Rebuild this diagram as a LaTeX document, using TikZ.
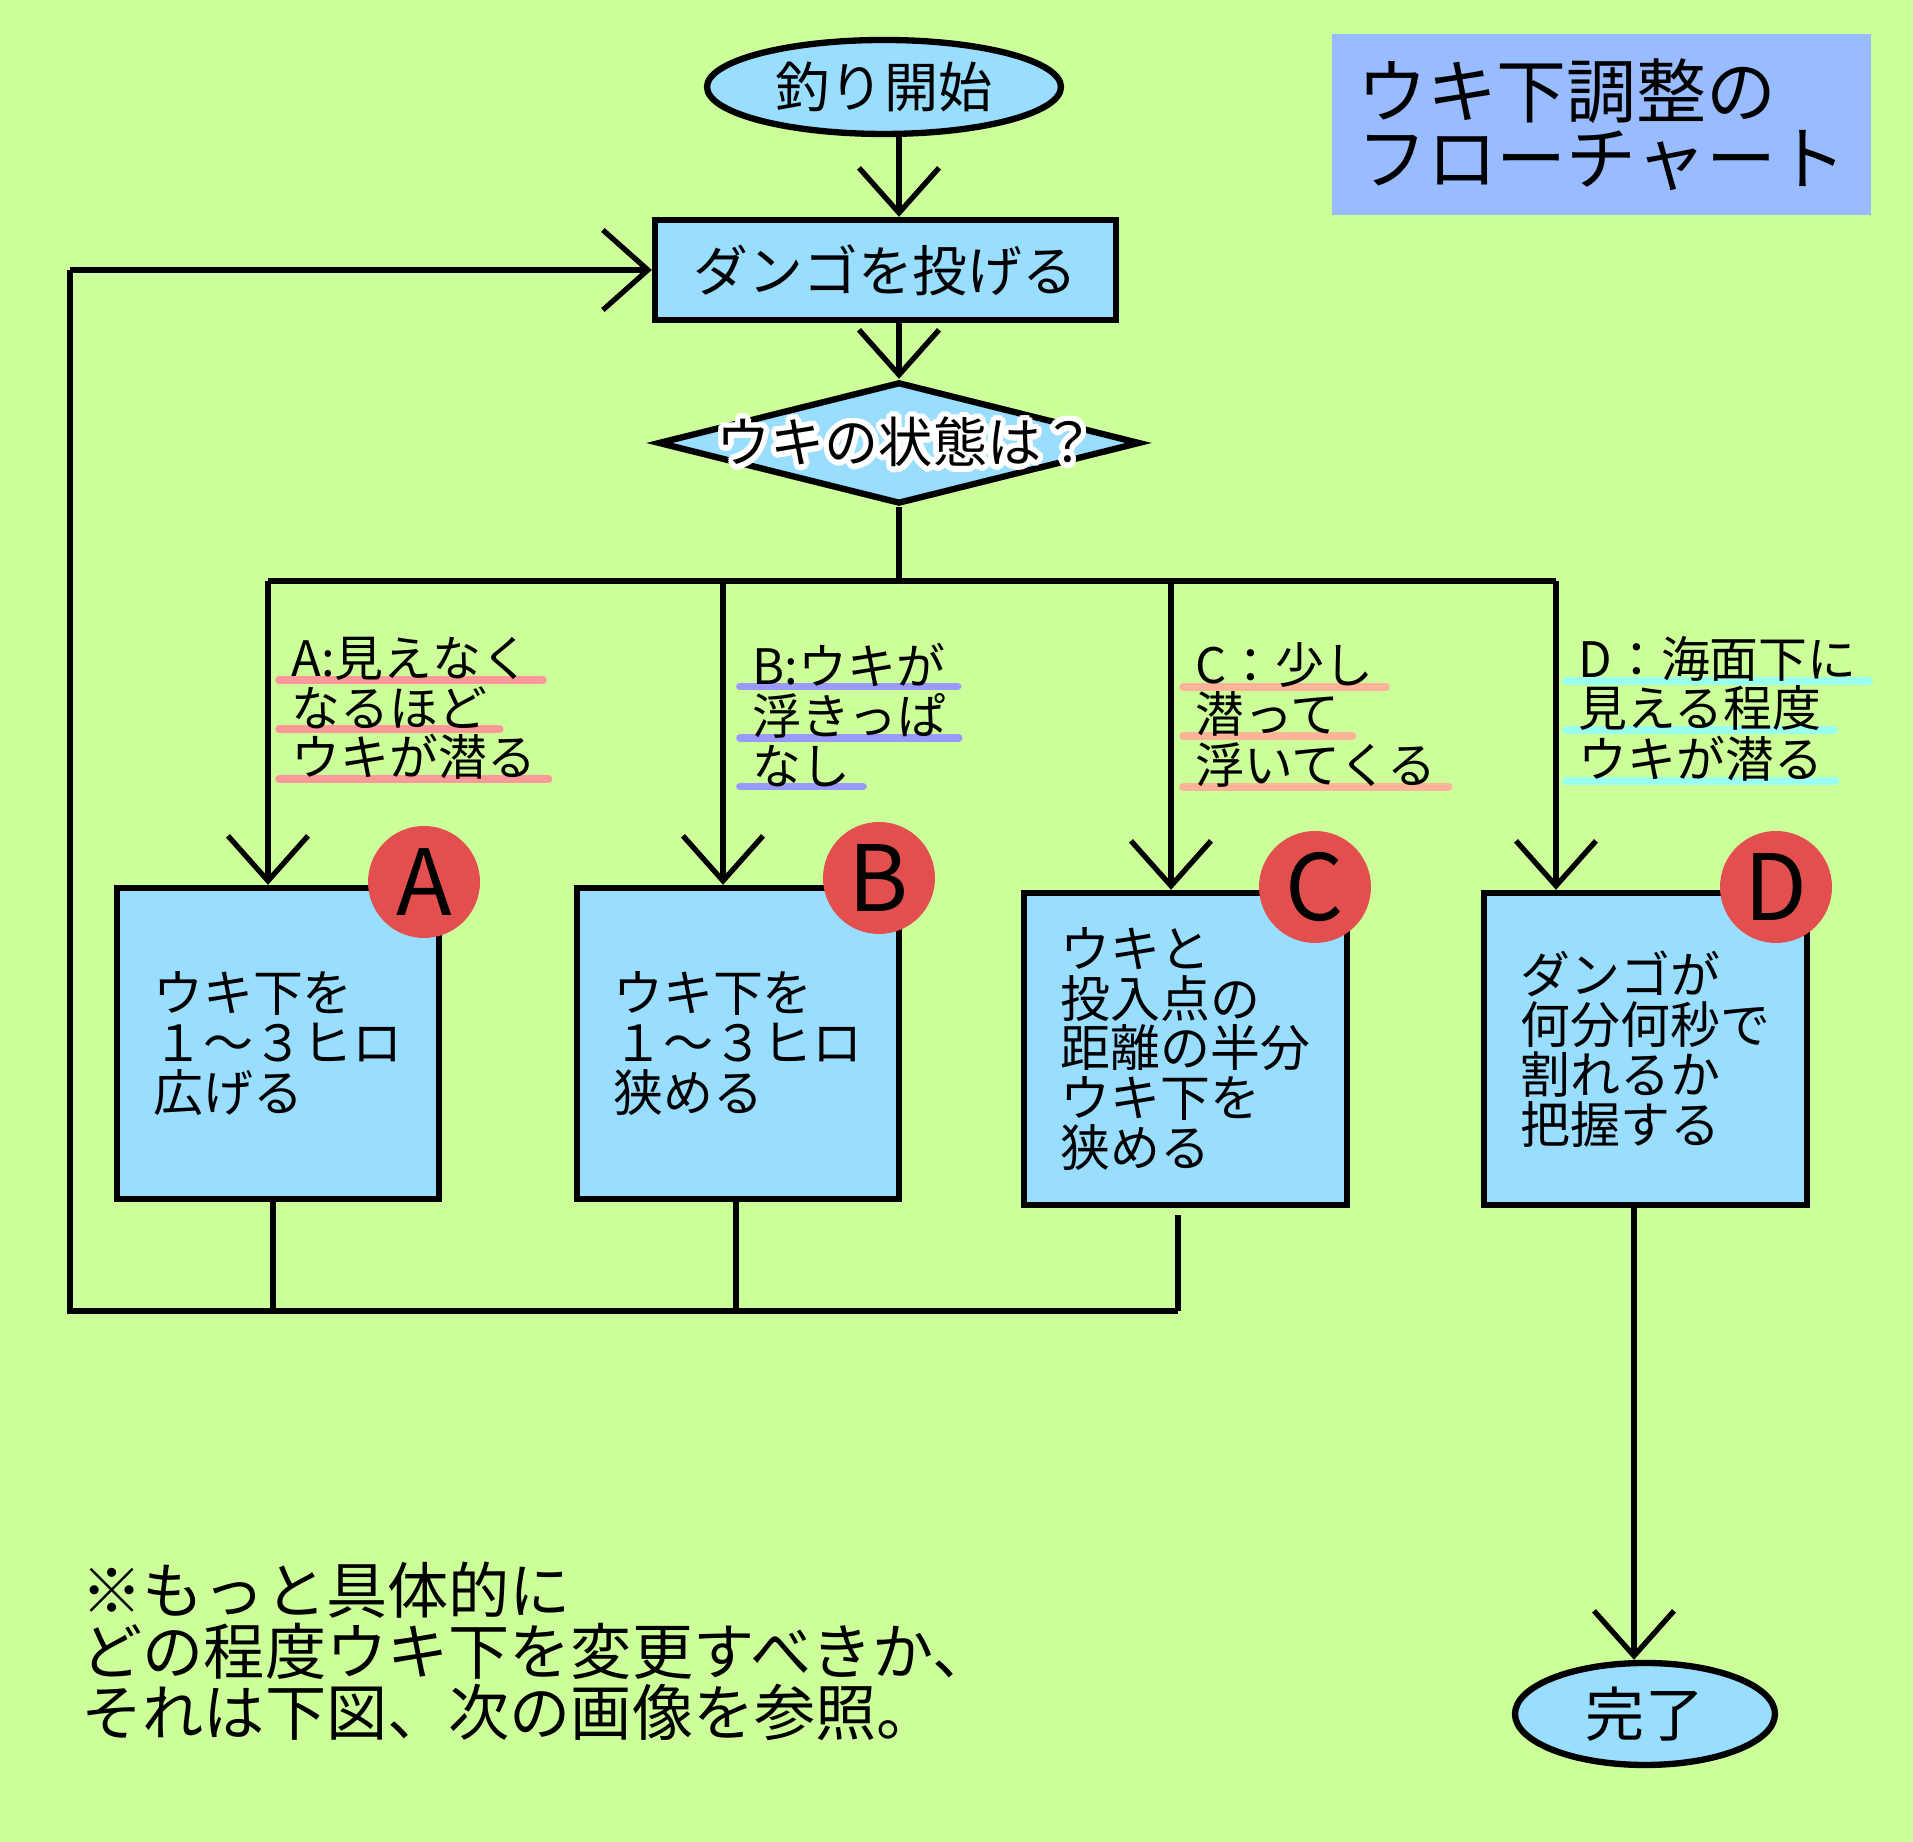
\documentclass[tikz,border=0pt]{standalone}
\usepackage{fontspec}
\setmainfont{Noto Sans CJK JP}
\definecolor{ukibg}{HTML}{CCFF99}
\definecolor{ukibox}{HTML}{99DDFF}
\definecolor{ukititle}{HTML}{99BBFF}
\definecolor{ukired}{HTML}{E34F4F}
\definecolor{ulpink}{HTML}{FF9999}
\definecolor{ulblue}{HTML}{9999FF}
\definecolor{ulpeach}{HTML}{FFB399}
\definecolor{ulaqua}{HTML}{99FFEE}
\usepackage{tikz}
\usetikzlibrary{shapes.geometric,arrows.meta,positioning,calc}
\pgfdeclarelayer{bg}
\pgfdeclarelayer{under}
\pgfsetlayers{bg,under,main}
\newcommand{\jpsize}[2]{\fontsize{#1}{#2}\selectfont}

\begin{document}
\begin{tikzpicture}[
  arr/.style={-{Straight Barb[length=4.5mm,width=8mm]}},
  flowbox/.style={draw, line width=1.8pt, fill=ukibox, inner sep=0pt},
  actbox/.style={flowbox, minimum width=3.22cm, minimum height=3.11cm, align=left, font=\jpsize{14.2pt}{14.2pt}},
  terminal/.style={ellipse, draw, line width=1.8pt, fill=ukibox, inner sep=0pt},
  badge/.style={circle, fill=ukired, minimum size=1.12cm, inner sep=0pt, font=\jpsize{26pt}{26pt}},
  lbl/.style={anchor=west, inner sep=0pt, font=\jpsize{13.9pt}{13.9pt}},
  uline/.style={line width=2.2pt, line cap=round, shorten <=-1mm, shorten >=-1mm},
]
\begin{pgfonlayer}{bg}
\path[use as bounding box, fill=ukibg] (0,0) rectangle (19.13,18.42);
\end{pgfonlayer}

\begin{scope}[line width=1.5pt]
% Title
\node[fill=ukititle, minimum width=5.39cm, minimum height=1.81cm, inner sep=0pt, align=left,
  font=\jpsize{19.9pt}{19.1pt}] (title) at (16.015,17.175) {ウキ下調整の\\フローチャート};

% Main flow
\node[terminal, minimum width=3.54cm, minimum height=0.94cm, font=\jpsize{15.4pt}{15.4pt}] (start) at (8.84,17.55) {釣り開始};
\node[flowbox, minimum width=4.61cm, minimum height=1cm, font=\jpsize{15.6pt}{15.6pt}] (throw) at (8.855,15.72) {ダンゴを投げる};
\node[diamond, draw, line width=1.8pt, fill=ukibox, minimum width=4.82cm, minimum height=1.22cm, inner sep=0pt] (check) at (8.99,13.99) {};
\coordinate (checkc) at (9.06,14.00);
\foreach \a in {0,20,...,340}
  \node[text=white, font=\jpsize{15.4pt}{15.4pt}] (halo\a) at ([shift={(\a:0.055)}]checkc) {ウキの状態は？};
\node[font=\jpsize{15.4pt}{15.4pt}] (checktxt) at (checkc) {ウキの状態は？};

\coordinate (spine) at (8.99,16.5);
\draw[arr] (spine |- start.south) -- (spine |- throw.north);
\draw[arr] (throw.south -| check.north) -- (check.north);

% Branches
\coordinate (brA) at (2.68,12.61);
\coordinate (brB) at (7.23,12.61);
\coordinate (brC) at (11.71,12.61);
\coordinate (brD) at (15.56,12.61);
\draw (check.south) -- (check.south |- brA);
\draw (brA) -- (brD);

% Action boxes
\node[actbox] (boxA) at (2.78,7.985) {ウキ下を\\１～３ヒロ\\広げる};
\node[actbox] (boxB) at (7.38,7.985) {ウキ下を\\１～３ヒロ\\狭める};
\node[actbox, minimum width=3.23cm, minimum height=3.12cm] (boxC) at (11.855,7.93) {ウキと\\投入点の\\距離の半分\\ウキ下を\\狭める};
\node[actbox, minimum width=3.23cm, minimum height=3.12cm] (boxD) at (16.455,7.93) {ダンゴが\\何分何秒で\\割れるか\\把握する};

\draw[arr] (brA) -- (brA |- boxA.north);
\draw[arr] (brB) -- (brB |- boxB.north);
\draw[arr] (brC) -- (brC |- boxC.north);
\draw[arr] (brD) -- (brD |- boxD.north);

\node[badge] (bdA) at (4.24,9.60) {A};
\node[badge] (bdB) at (8.79,9.64) {B};
\node[badge] (bdC) at (13.15,9.55) {C};
\node[badge] (bdD) at (17.76,9.55) {D};

% Back to throwing
\coordinate (dropA) at (2.73,5.31);
\coordinate (dropB) at (7.36,5.31);
\coordinate (dropC) at (11.78,5.31);
\coordinate (loopBL) at (0.70,5.31);
\draw (dropA |- boxA.south) -- (dropA);
\draw (dropB |- boxB.south) -- (dropB);
\draw ([yshift=-0.07cm]dropC |- boxC.south) -- (dropC);
\draw (dropC) -- (loopBL) -- (loopBL |- throw.west);
\draw[arr] (loopBL |- throw.west) -- (throw.west);

% Finish
\node[terminal, minimum width=2.6cm, minimum height=1.02cm, font=\jpsize{16.8pt}{16.8pt}] (done) at (16.45,1.28) {完了};
\coordinate (dOut) at (16.34,6.37);
\draw[arr] (dOut) -- (dOut |- done.north);

% Note
\node[anchor=west, inner sep=0pt, align=left, font=\jpsize{17.4pt}{17.4pt}] (note) at (0.79,1.91)
  {※もっと具体的に\\どの程度ウキ下を変更すべきか、\\それは下図、次の画像を参照。};

% Conditions
\node[lbl] (laA1) at (2.89,11.83) {A:見えなく};
\node[lbl] (laA2) at (2.89,11.34) {なるほど};
\node[lbl] (laA3) at (2.89,10.85) {ウキが潜る};
\node[lbl] (laB1) at (7.50,11.77) {B:ウキが};
\node[lbl] (laB2) at (7.50,11.26) {浮きっぱ};
\node[lbl] (laB3) at (7.50,10.76) {なし};
\node[lbl] (laC1) at (11.93,11.77) {C：少し};
\node[lbl] (laC2) at (11.93,11.28) {潜って};
\node[lbl] (laC3) at (11.93,10.77) {浮いてくる};
\node[lbl] (laD1) at (15.76,11.83) {D：海面下に};
\node[lbl] (laD2) at (15.76,11.34) {見える程度};
\node[lbl] (laD3) at (15.76,10.83) {ウキが潜る};
\begin{pgfonlayer}{under}
\foreach \n/\c in {A/ulpink, B/ulblue, C/ulpeach, D/ulaqua}
  \foreach \k in {1,2,3}
    \draw[uline, \c] ([yshift=0.3mm]la\n\k.south west) -- ([yshift=0.3mm]la\n\k.south east);
\end{pgfonlayer}
\end{scope}
\end{tikzpicture}
\end{document}
